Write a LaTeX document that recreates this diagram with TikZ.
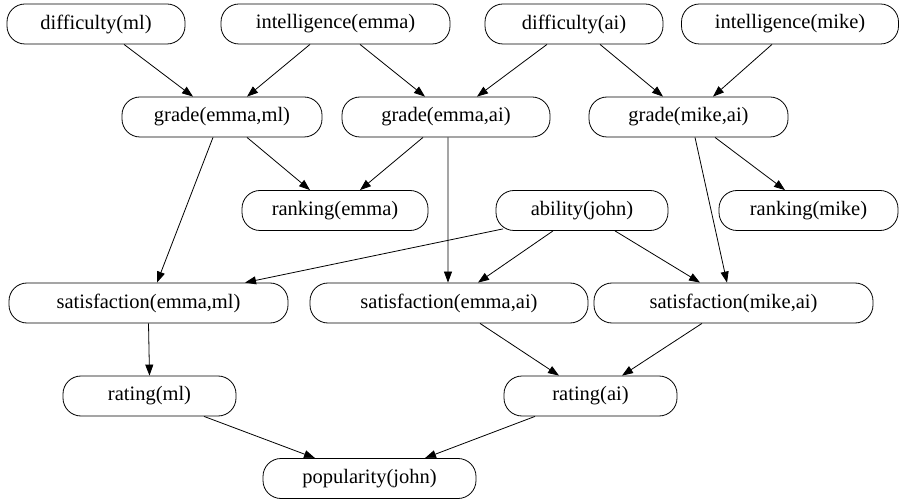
\documentclass[tikz,border=0pt]{standalone}
\usepackage{fontspec}
\setmainfont{Liberation Serif}
\newfontfamily\gvfont{Liberation Serif}
\usetikzlibrary{arrows.meta}
\begin{document}
\begin{tikzpicture}[x=1bp,y=-1bp,
  nd/.style={draw,line width=0.8bp,rectangle,rounded corners=18bp,minimum height=40bp,inner sep=0pt,
    font=\gvfont\fontsize{20.5bp}{24bp}\selectfont},
  ar/.style={draw,line width=0.8bp,-{Triangle[length=11bp,width=8bp]}}]
\useasboundingbox (0,0) rectangle (901,500);
% row 1
\node[nd,minimum width=178bp] (dml) at (96,24) {difficulty(ml)};
\node[nd,minimum width=229bp] (iemma) at (335.5,24) {intelligence(emma)};
\node[nd,minimum width=178bp] (dai) at (574,24) {difficulty(ai)};
\node[nd,minimum width=217bp] (imike) at (790,24) {intelligence(mike)};
% row 2
\node[nd,minimum width=200bp] (gml) at (222,117) {grade(emma,ml)};
\node[nd,minimum width=208bp] (gai) at (446,117) {grade(emma,ai)};
\node[nd,minimum width=199bp] (gmike) at (688.5,117) {grade(mike,ai)};
% row 3
\node[nd,minimum width=186bp] (remma) at (335,210.5) {ranking(emma)};
\node[nd,minimum width=172bp] (ajohn) at (582,210.5) {ability(john)};
\node[nd,minimum width=179bp] (rmike) at (808.5,210.5) {ranking(mike)};
% row 4
\node[nd,minimum width=279bp] (sml) at (148.5,303) {satisfaction(emma,ml)};
\node[nd,minimum width=278bp] (sai) at (449,303) {satisfaction(emma,ai)};
\node[nd,minimum width=279bp] (smike) at (733.5,303) {satisfaction(mike,ai)};
% row 5
\node[nd,minimum width=173bp] (rml) at (149.5,396) {rating(ml)};
\node[nd,minimum width=173bp] (rai) at (590.5,396) {rating(ai)};
% row 6
\node[nd,minimum width=213bp] (pop) at (369.5,478.5) {popularity(john)};
% edges
\draw[ar] ([xshift=28bp]dml.south) -- ([xshift=-29bp]gml.north);
\draw[ar] ([xshift=-25.5bp]iemma.south) -- ([xshift=25bp]gml.north);
\draw[ar] ([xshift=24.5bp]iemma.south) -- ([xshift=-21bp]gai.north);
\draw[ar] ([xshift=-27bp]dai.south) -- ([xshift=31bp]gai.north);
\draw[ar] ([xshift=26bp]dai.south) -- ([xshift=-25.5bp]gmike.north);
\draw[ar] ([xshift=-18bp]imike.south) -- ([xshift=24.5bp]gmike.north);
\draw[ar] ([xshift=25bp]gml.south) -- ([xshift=-25bp]remma.north);
\draw[ar] ([xshift=-23bp]gai.south) -- ([xshift=25bp]remma.north);
\draw[ar] ([xshift=-9bp]gml.south) -- ([xshift=8.5bp]sml.north);
\draw[ar] ([xshift=2bp]gai.south) -- ([xshift=-1bp]sai.north);
\draw[ar] ([xshift=26.5bp]gmike.south) -- ([xshift=-23.5bp]rmike.north);
\draw[ar] ([xshift=6.5bp]gmike.south) -- ([xshift=-6.5bp]smike.north);
\draw[ar] ([xshift=-79bp,yshift=2bp]ajohn.south) -- ([xshift=96.5bp]sml.north);
\draw[ar] ([xshift=-29bp]ajohn.south) -- ([xshift=29bp]sai.north);
\draw[ar] ([xshift=33bp]ajohn.south) -- ([xshift=-33.5bp]smike.north);
\draw[ar] (sml.south) -- (rml.north);
\draw[ar] ([xshift=31bp]sai.south) -- ([xshift=-31.5bp]rai.north);
\draw[ar] ([xshift=-31.5bp]smike.south) -- ([xshift=31.5bp]rai.north);
\draw[ar] ([xshift=54.5bp]rml.south) -- ([xshift=-54.5bp]pop.north);
\draw[ar] ([xshift=-55.5bp]rai.south) -- ([xshift=55.5bp]pop.north);
\end{tikzpicture}
\end{document}
